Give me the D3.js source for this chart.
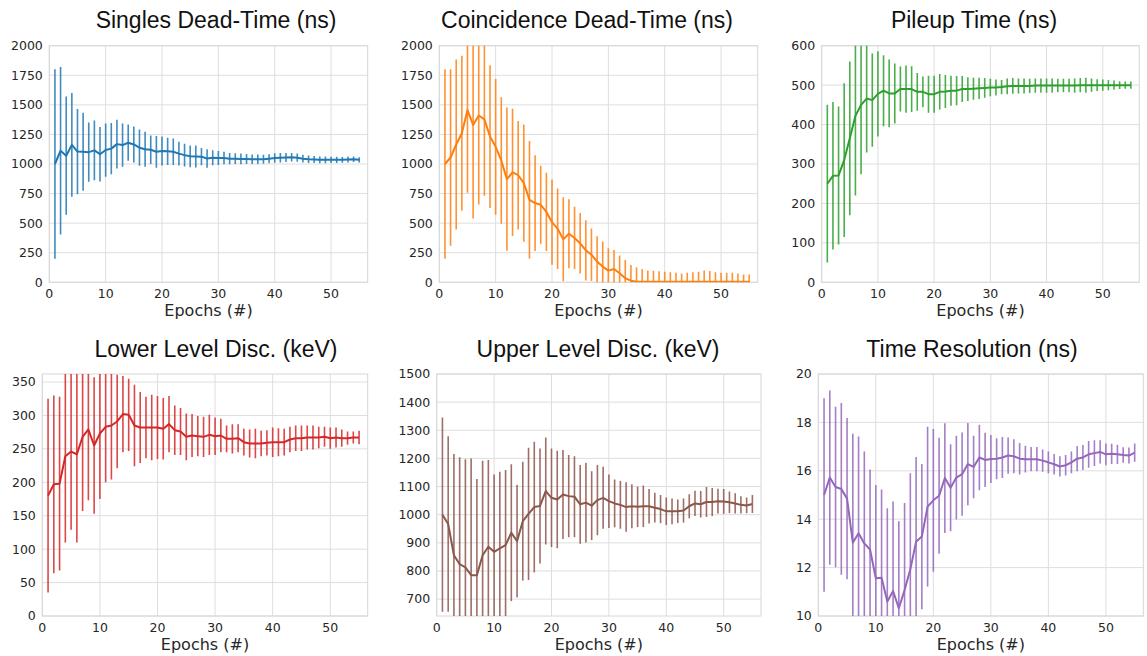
<!DOCTYPE html>
<html>
<head>
<meta charset="utf-8">
<title>Training metrics per epoch</title>
<script src="https://d3js.org/d3.v7.min.js"></script>
<style>
  body { margin: 0; background: #fff; }
  .tick-label { font-family: "DejaVu Sans", sans-serif; font-size: 12.5px; fill: #262626; }
  .x-title { font-family: "DejaVu Sans", sans-serif; font-size: 16px; fill: #262626; }
  .panel-title { font-family: "Liberation Sans", Arial, sans-serif; font-size: 23px; fill: #111; }
</style>
</head>
<body>
<script>
// epochs on the x axis
var epochs = d3.range(1, 56);
var xTicks = [0, 10, 20, 30, 40, 50];

// Singles Dead-Time (ns)
var singlesMean = [1000,1112,1070,1162,1105,1104,1100,1115,1083,1118,1130,1168,1160,1180,1165,1138,1125,1120,1103,1110,1107,1104,1088,1075,1065,1063,1062,1046,1053,1051,1050,1045,1045,1043,1042,1040,1040,1040,1045,1050,1053,1055,1057,1053,1045,1040,1038,1035,1035,1035,1035,1035,1038,1040,1035];
var singlesErr = [800,708,500,438,360,330,250,252,230,225,217,207,183,153,152,153,148,121,134,122,115,112,100,96,92,93,73,78,63,59,53,48,45,45,42,40,40,38,38,40,40,38,36,35,33,32,30,28,28,27,27,25,25,24,22];
var singlesTicks = [0,250,500,750,1000,1250,1500,1750,2000];

// Coincidence Dead-Time (ns)
var coincMean = [1000,1055,1165,1260,1456,1330,1410,1377,1232,1145,1030,872,930,905,838,697,670,655,595,508,452,363,410,375,330,270,233,175,132,99,113,76,34,14,5,5,5,5,5,5,5,5,5,5,5,5,5,5,5,5,5,5,5,5,5];
var coincErr = [800,745,718,655,700,790,752,645,603,573,535,605,538,458,495,497,405,330,330,360,340,355,292,263,256,254,222,215,212,188,160,150,155,132,122,105,95,92,88,85,80,75,70,75,80,85,95,90,80,75,75,75,70,60,60];
var coincTicks = [0,250,500,750,1000,1250,1500,1750,2000];

// Pileup Time (ns)
var pileupMean = [250,270,271,310,365,422,450,466,462,478,486,479,479,490,490,490,483,483,477,477,483,484,486,486,490,490,491,492,493,494,494,495,497,498,498,498,498,499,499,499,499,499,499,499,499,500,500,500,500,500,500,500,500,500,500];
var pileupErr = [200,187,175,195,195,202,176,137,118,108,90,86,76,57,60,58,48,39,47,47,45,42,38,37,33,30,28,27,25,22,20,18,20,20,19,19,18,18,18,18,18,17,17,17,18,18,19,17,15,14,13,12,10,9,9];
var pileupTicks = [0,100,200,300,400,500,600];

// Lower Level Disc. (keV)
var lldMean = [180,197,198,239,246,242,268,279,255,273,283,285,291,302,301,285,282,282,282,282,280,287,278,276,268,270,269,268,271,269,270,265,265,266,260,258,258,258,259,260,260,260,264,266,266,267,267,267,268,266,267,266,266,267,267];
var lldErr = [145,133,130,129,117,132,111,106,102,98,83,81,70,57,54,61,53,46,49,47,46,42,37,35,35,32,30,30,30,28,25,20,22,21,20,21,22,19,19,22,21,20,19,19,19,18,18,16,15,16,15,13,10,9,10];
var lldTicks = [0,50,100,150,200,250,300,350];

// Upper Level Disc. (keV)
var uldMean = [1000,967,856,824,813,785,785,856,886,868,880,892,936,906,977,1003,1027,1031,1084,1060,1054,1072,1066,1064,1037,1043,1032,1052,1060,1048,1040,1035,1027,1030,1028,1030,1030,1025,1020,1012,1012,1012,1015,1030,1040,1037,1045,1045,1048,1047,1044,1040,1035,1033,1038];
var uldErr = [345,312,360,380,384,415,342,336,308,275,273,267,243,200,211,235,232,204,190,175,173,158,146,144,140,142,122,125,110,95,85,85,88,78,72,74,61,53,50,49,46,42,43,43,45,47,53,50,44,44,38,36,31,28,32];
var uldTicks = [700,800,900,1000,1100,1200,1300,1400,1500];

// Time Resolution (ns)
var timeresMean = [15.0,15.72,15.33,15.25,14.85,13.03,13.42,13.0,12.75,11.56,11.58,10.6,11.03,10.32,11.07,11.93,13.07,13.28,14.52,14.78,14.97,15.7,15.3,15.72,15.86,16.28,16.16,16.55,16.45,16.49,16.5,16.55,16.63,16.6,16.5,16.48,16.48,16.48,16.42,16.35,16.27,16.18,16.23,16.35,16.5,16.55,16.68,16.73,16.78,16.68,16.7,16.68,16.65,16.63,16.75];
var timeresErr = [4.0,3.6,3.32,3.55,3.33,4.5,4.0,3.8,3.3,3.85,3.65,3.85,3.7,3.6,3.6,3.97,3.5,3.0,3.3,2.95,2.4,2.27,1.8,1.73,1.72,1.7,1.29,1.35,1.12,0.99,0.85,0.85,0.75,0.7,0.65,0.55,0.5,0.5,0.46,0.45,0.42,0.42,0.42,0.45,0.52,0.52,0.55,0.53,0.48,0.45,0.42,0.4,0.32,0.33,0.38];
var timeresTicks = [10,12,14,16,18,20];

var titles = ["Singles Dead-Time (ns)", "Coincidence Dead-Time (ns)", "Pileup Time (ns)",
              "Lower Level Disc. (keV)", "Upper Level Disc. (keV)", "Time Resolution (ns)"];
var colors = ["#1f77b4", "#ff7f0e", "#2ca02c", "#d62728", "#8c564b", "#9467bd"];

// panel boxes
var panels = [
  {left: 49.3,  right: 367.7,  top: 45.7, bottom: 282.3, titleX: 216, yDomain: [0, 2000],  ticks: singlesTicks, mean: singlesMean, err: singlesErr},
  {left: 439.3, right: 757.7,  top: 45.7, bottom: 282.3, titleX: 587, yDomain: [0, 2000],  ticks: coincTicks,   mean: coincMean,   err: coincErr},
  {left: 821.7, right: 1139.3, top: 45.7, bottom: 282.3, titleX: 974, yDomain: [0, 600],   ticks: pileupTicks,  mean: pileupMean,  err: pileupErr},
  {left: 42.3,  right: 367.7,  top: 374,  bottom: 616,   titleX: 216, yDomain: [0, 362],   ticks: lldTicks,     mean: lldMean,     err: lldErr},
  {left: 436.7, right: 761,    top: 374,  bottom: 616,   titleX: 598, yDomain: [640, 1500], ticks: uldTicks,    mean: uldMean,     err: uldErr},
  {left: 818.3, right: 1143.3, top: 374,  bottom: 616,   titleX: 972, yDomain: [10, 20],   ticks: timeresTicks, mean: timeresMean, err: timeresErr}
];

var svg = d3.select("body")
    .append("svg")
    .attr("xmlns", "http://www.w3.org/2000/svg")
    .attr("width", 1147)
    .attr("height", 656);

panels.forEach(function(p, i) {
  var x = d3.scaleLinear().domain([0, 56.5]).range([p.left, p.right]);
  var y = d3.scaleLinear().domain(p.yDomain).range([p.bottom, p.top]);
  var g = svg.append("g").attr("class", "panel");

  g.append("clipPath").attr("id", "clip" + i)
    .append("rect")
      .attr("x", p.left).attr("y", p.top)
      .attr("width", p.right - p.left).attr("height", p.bottom - p.top);

  // grid
  g.selectAll("line.vgrid").data(xTicks).enter().append("line")
    .attr("class", "vgrid")
    .attr("x1", function(d) { return x(d); }).attr("x2", function(d) { return x(d); })
    .attr("y1", p.top).attr("y2", p.bottom)
    .attr("stroke", "#dedede").attr("stroke-width", 1);
  g.selectAll("line.hgrid").data(p.ticks).enter().append("line")
    .attr("class", "hgrid")
    .attr("x1", p.left).attr("x2", p.right)
    .attr("y1", function(d) { return y(d); }).attr("y2", function(d) { return y(d); })
    .attr("stroke", "#dedede").attr("stroke-width", 1);

  // frame
  g.append("rect")
    .attr("x", p.left).attr("y", p.top)
    .attr("width", p.right - p.left).attr("height", p.bottom - p.top)
    .attr("fill", "none").attr("stroke", "#d6d6d6").attr("stroke-width", 1);

  // tick labels
  g.selectAll("text.ytick").data(p.ticks).enter().append("text")
    .attr("class", "tick-label ytick")
    .attr("x", p.left - 6.5)
    .attr("y", function(d) { return y(d); })
    .attr("dy", "0.35em")
    .attr("text-anchor", "end")
    .text(function(d) { return d; });
  g.selectAll("text.xtick").data(xTicks).enter().append("text")
    .attr("class", "tick-label xtick")
    .attr("x", function(d) { return x(d); })
    .attr("y", p.bottom + 16)
    .attr("text-anchor", "middle")
    .text(function(d) { return d; });

  g.append("text")
    .attr("class", "x-title")
    .attr("x", (p.left + p.right) / 2)
    .attr("y", p.bottom + 34)
    .attr("text-anchor", "middle")
    .text("Epochs (#)");

  g.append("text")
    .attr("class", "panel-title")
    .attr("x", p.titleX)
    .attr("y", p.top - 17.5)
    .attr("text-anchor", "middle")
    .text(titles[i]);

  var plot = g.append("g").attr("clip-path", "url(#clip" + i + ")");

  // error bars
  plot.selectAll("line.err").data(epochs).enter().append("line")
    .attr("class", "err")
    .attr("x1", function(d) { return x(d); }).attr("x2", function(d) { return x(d); })
    .attr("y1", function(d, j) { return y(p.mean[j] - p.err[j]); })
    .attr("y2", function(d, j) { return y(p.mean[j] + p.err[j]); })
    .attr("stroke", colors[i]).attr("stroke-width", 1.6).attr("stroke-opacity", 0.85);

  // mean line
  var line = d3.line()
    .x(function(d) { return x(d); })
    .y(function(d, j) { return y(p.mean[j]); });
  plot.append("path")
    .datum(epochs)
    .attr("d", line)
    .attr("fill", "none")
    .attr("stroke", colors[i])
    .attr("stroke-width", 2)
    .attr("stroke-linejoin", "round");
});
</script>
</body>
</html>
